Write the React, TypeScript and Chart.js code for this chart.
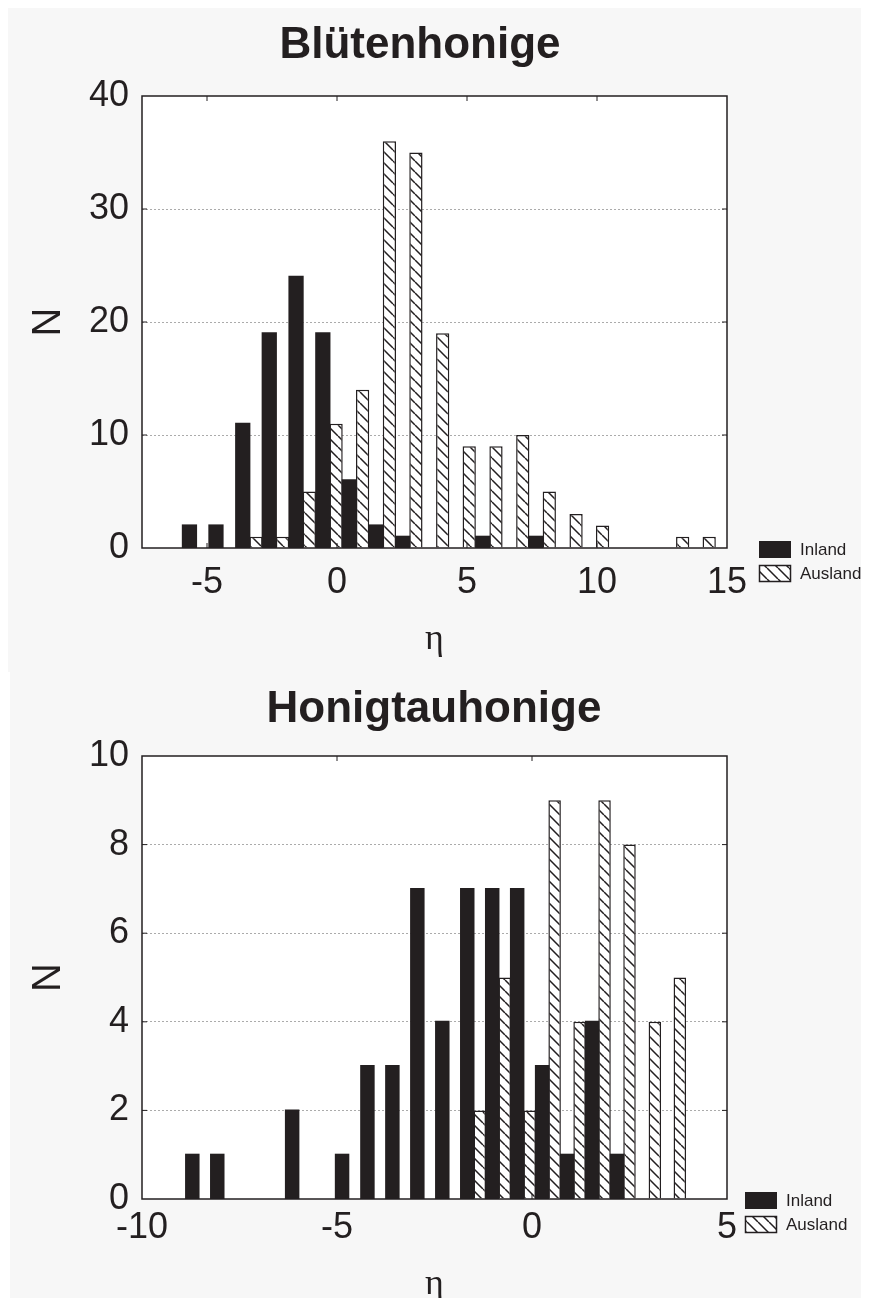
import React, { useEffect, useRef } from "react";
import { Chart, registerables } from "chart.js";

Chart.register(...registerables);

// ---------- data ----------
const seriesLabels = ["Inland", "Ausland"];
const xAxisTitle = "η";
const yAxisTitle = "N";

const bluetenTitle = "Blütenhonige";
const bluetenBins = [-5.42, -4.4, -3.37, -2.35, -1.32, -0.29, 0.73, 1.76, 2.78, 3.81, 4.83, 5.86, 6.89, 7.91, 8.94, 9.96, 10.99, 12.01, 13.04, 14.06];
const bluetenInland = [2, 2, 11, 19, 24, 19, 6, 2, 1, 0, 0, 1, 0, 1, 0, 0, 0, 0, 0, 0];
const bluetenAusland = [0, 0, 1, 1, 5, 11, 14, 36, 35, 19, 9, 9, 10, 5, 3, 2, 0, 0, 1, 1];
const bluetenXTicks = [-5, 0, 5, 10, 15];
const bluetenYTicks = [0, 10, 20, 30, 40];

const tauTitle = "Honigtauhonige";
const tauBins = [-8.55, -7.91, -7.27, -6.63, -5.99, -5.35, -4.71, -4.06, -3.42, -2.78, -2.14, -1.5, -0.86, -0.22, 0.42, 1.06, 1.7, 2.34, 2.99, 3.63];
const tauInland = [1, 1, 0, 0, 2, 0, 1, 3, 3, 7, 4, 7, 7, 7, 3, 1, 4, 1, 0, 0];
const tauAusland = [0, 0, 0, 0, 0, 0, 0, 0, 0, 0, 0, 2, 5, 2, 9, 4, 9, 8, 4, 5];
const tauXTicks = [-10, -5, 0, 5];
const tauYTicks = [0, 2, 4, 6, 8, 10];

// ---------- style ----------
const INK = "#231f20";
const SANS = "'Liberation Sans', Arial, sans-serif";
const SERIF = "'Liberation Serif', 'DejaVu Serif', serif";
const PANEL_BG = "#f7f7f7";

type PanelCfg = {
  title: string;
  bins: number[];
  inland: number[];
  ausland: number[];
  xTicks: number[];
  yTicks: number[];
  xMin: number;
  xMax: number;
  left: number;
  top: number;
  width: number;
  height: number;
  areaLeft: number;
  areaTop: number;
  areaRight: number;
  areaBottom: number;
  rightPad: number;
  titlePadTop: number;
  yTitlePad: number;
  xTitlePad: number;
  xTickPad: number;
  legendDx: number;
};

const topPanel: PanelCfg = {
  title: bluetenTitle,
  bins: bluetenBins,
  inland: bluetenInland,
  ausland: bluetenAusland,
  xTicks: bluetenXTicks,
  yTicks: bluetenYTicks,
  xMin: -7.5,
  xMax: 15,
  left: 8,
  top: 7,
  width: 861,
  height: 665,
  areaLeft: 134,
  areaTop: 89,
  areaRight: 719,
  areaBottom: 541,
  rightPad: 37,
  titlePadTop: 12,
  yTitlePad: 17,
  xTitlePad: 11,
  xTickPad: 5,
  legendDx: 32,
};

const bottomPanel: PanelCfg = {
  title: tauTitle,
  bins: tauBins,
  inland: tauInland,
  ausland: tauAusland,
  xTicks: tauXTicks,
  yTicks: tauYTicks,
  xMin: -10,
  xMax: 5,
  left: 10,
  top: 672,
  width: 859,
  height: 634,
  areaLeft: 132,
  areaTop: 84,
  areaRight: 717,
  areaBottom: 527,
  rightPad: 11,
  titlePadTop: 11,
  yTitlePad: 15,
  xTitlePad: 0,
  xTickPad: -1,
  legendDx: 18,
};

function makeHatch(ctx: CanvasRenderingContext2D): CanvasPattern | string {
  const s = 11;
  const pc = document.createElement("canvas");
  pc.width = s;
  pc.height = s;
  const p = pc.getContext("2d");
  if (!p) return "#ffffff";
  p.fillStyle = "#ffffff";
  p.fillRect(0, 0, s, s);
  p.strokeStyle = INK;
  p.lineWidth = 1.5;
  p.beginPath();
  for (const k of [-s, 0, s]) {
    p.moveTo(k, 0);
    p.lineTo(k + s, s);
  }
  p.stroke();
  return ctx.createPattern(pc, "repeat") || "#ffffff";
}

function HoneyChart({ cfg }: { cfg: PanelCfg }) {
  const ref = useRef<HTMLCanvasElement | null>(null);

  useEffect(() => {
    const canvas = ref.current;
    if (!canvas) return;
    const ctx = canvas.getContext("2d");
    if (!ctx) return;
    const hatch = makeHatch(ctx);
    const yMax = cfg.yTicks[cfg.yTicks.length - 1];
    const titleFontSize = 44;
    const titleLine = titleFontSize * 1.2;

    const framePlugin = {
      id: "frame",
      beforeDraw(chart: any) {
        const { ctx: c, chartArea: a } = chart;
        c.save();
        c.fillStyle = "#ffffff";
        c.fillRect(a.left, a.top, a.right - a.left, a.bottom - a.top);
        c.restore();
      },
      afterDatasetsDraw(chart: any) {
        const { ctx: c, chartArea: a, scales } = chart;
        c.save();
        c.strokeStyle = INK;
        c.lineWidth = 1;
        c.beginPath();
        for (const v of cfg.xTicks) {
          const px = scales.x.getPixelForValue(v);
          if (px > a.left + 2 && px < a.right - 2) {
            c.moveTo(px, a.top);
            c.lineTo(px, a.top + 5);
            c.moveTo(px, a.bottom);
            c.lineTo(px, a.bottom - 5);
          }
        }
        for (const v of cfg.yTicks) {
          const py = scales.y.getPixelForValue(v);
          if (py > a.top + 2 && py < a.bottom - 2) {
            c.moveTo(a.left, py);
            c.lineTo(a.left + 5, py);
            c.moveTo(a.right, py);
            c.lineTo(a.right - 5, py);
          }
        }
        c.stroke();
        c.lineWidth = 1.5;
        c.strokeRect(a.left, a.top, a.right - a.left, a.bottom - a.top);
        c.restore();
      },
      afterDraw(chart: any) {
        const { ctx: c, chartArea: a } = chart;
        const ds = chart.data.datasets;
        const bx = a.right + cfg.legendDx;
        const bw = 32;
        const bh = 17;
        const rows = [a.bottom - 7, a.bottom + 17];
        c.save();
        c.font = `17px ${SANS}`;
        c.textAlign = "left";
        c.textBaseline = "middle";
        rows.forEach((ry: number, i: number) => {
          if (i === 0) {
            c.fillStyle = INK;
            c.fillRect(bx, ry, bw, bh);
          } else {
            c.fillStyle = hatch;
            c.fillRect(bx, ry, bw, bh);
            c.strokeStyle = INK;
            c.lineWidth = 1.5;
            c.strokeRect(bx + 0.5, ry + 0.5, bw - 1, bh - 1);
          }
          c.fillStyle = INK;
          c.fillText(ds[i].label, bx + bw + 9, ry + bh / 2 + 1);
        });
        c.restore();
      },
    };

    const isZero = (c: any) => !c.raw || c.raw.y === 0;

    const chart = new Chart(ctx, {
      type: "bar",
      data: {
        datasets: [
          {
            label: seriesLabels[0],
            data: cfg.bins.map((b, i) => ({ x: b, y: cfg.inland[i] })),
            backgroundColor: INK,
            borderColor: INK,
            borderWidth: 0,
            inflateAmount: (c: any) => (isZero(c) ? 0 : 1),
            categoryPercentage: 1,
            barPercentage: 1,
            yAxisID: "y",
          },
          {
            label: seriesLabels[1],
            data: cfg.bins.map((b, i) => ({ x: b, y: cfg.ausland[i] })),
            backgroundColor: hatch as any,
            borderColor: INK,
            borderWidth: (c: any) => (isZero(c) ? 0 : 1.5),
            inflateAmount: 0,
            categoryPercentage: 1,
            barPercentage: 1,
            yAxisID: "y",
          },
        ],
      },
      options: {
        responsive: false,
        maintainAspectRatio: false,
        animation: false,
        devicePixelRatio: 1,
        layout: {
          padding: { left: 0, top: 0, right: cfg.rightPad, bottom: 0 },
        },
        plugins: {
          legend: { display: false },
          tooltip: { enabled: false },
          title: {
            display: true,
            text: cfg.title,
            color: INK,
            font: { family: SANS, size: titleFontSize, weight: "bold", lineHeight: 1.2 },
            padding: {
              top: cfg.titlePadTop,
              bottom: cfg.areaTop - cfg.titlePadTop - titleLine,
            },
          },
        },
        scales: {
          x: {
            type: "linear",
            min: cfg.xMin,
            max: cfg.xMax,
            offset: false,
            grid: { display: false, offset: false },
            border: { display: false },
            afterBuildTicks: (s: any) => {
              s.ticks = cfg.xTicks.map((v) => ({ value: v }));
            },
            afterFit: (s: any) => {
              s.height = cfg.height - cfg.areaBottom;
            },
            ticks: {
              color: INK,
              font: { family: SANS, size: 36 },
              padding: cfg.xTickPad,
              maxRotation: 0,
              autoSkip: false,
              callback: (v: any) => String(v),
            },
            title: {
              display: true,
              text: xAxisTitle,
              color: INK,
              font: { family: SERIF, size: 36, lineHeight: 1.2 },
              padding: { top: 0, bottom: cfg.xTitlePad },
            },
          },
          y: {
            type: "linear",
            min: 0,
            max: yMax,
            afterBuildTicks: (s: any) => {
              s.ticks = cfg.yTicks.map((v) => ({ value: v }));
            },
            afterFit: (s: any) => {
              s.width = cfg.areaLeft;
            },
            grid: {
              drawTicks: false,
              lineWidth: 1,
              color: (c: any) =>
                c.tick && (c.tick.value === 0 || c.tick.value === yMax) ? "rgba(0,0,0,0)" : "#ababab",
            },
            border: { display: false, dash: [2, 2] },
            ticks: {
              color: INK,
              font: { family: SANS, size: 36 },
              padding: 13,
              callback: (v: any) => String(v),
            },
            title: {
              display: true,
              text: yAxisTitle,
              color: INK,
              font: { family: SANS, size: 40, lineHeight: 1.2 },
              padding: { top: cfg.yTitlePad, bottom: 0 },
            },
          },
          legendSpace: {
            type: "linear",
            position: "right",
            display: true,
            min: 0,
            max: 1,
            grid: { display: false },
            border: { display: false },
            ticks: { display: false },
            afterFit: (s: any) => {
              s.width = cfg.width - cfg.areaRight - cfg.rightPad;
            },
          },
        },
      } as any,
      plugins: [framePlugin as any],
    });

    return () => chart.destroy();
  }, [cfg]);

  return (
    <div
      style={{
        position: "absolute",
        left: cfg.left,
        top: cfg.top,
        width: cfg.width,
        height: cfg.height,
        background: PANEL_BG,
      }}
    >
      <canvas ref={ref} width={cfg.width} height={cfg.height} style={{ display: "block" }} />
    </div>
  );
}

export default function App() {
  return (
    <div
      style={{
        position: "relative",
        width: 869,
        height: 1306,
        margin: -8,
        background: "#ffffff",
        overflow: "hidden",
      }}
    >
      <HoneyChart cfg={topPanel} />
      <HoneyChart cfg={bottomPanel} />
    </div>
  );
}
